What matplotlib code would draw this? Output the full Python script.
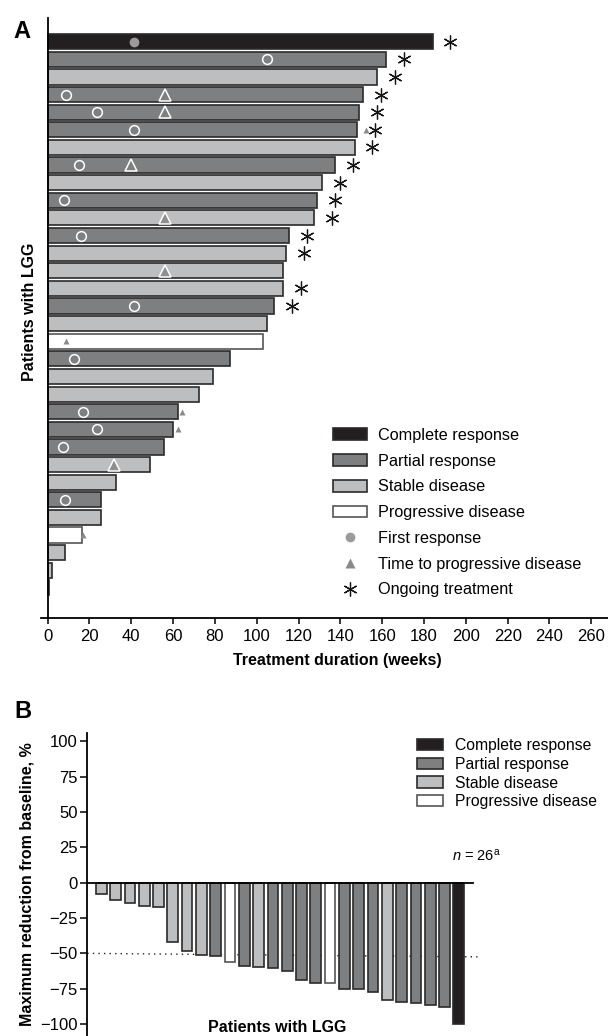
import numpy as np
import matplotlib
matplotlib.use("Agg")
import matplotlib.pyplot as plt
from matplotlib.patches import Patch
from matplotlib.lines import Line2D

plt.rcParams['font.family'] = ['Liberation Sans', 'DejaVu Sans']
plt.rcParams['mathtext.fontset'] = 'custom'
plt.rcParams['mathtext.rm'] = 'Liberation Sans'
plt.rcParams['mathtext.it'] = 'Liberation Sans:italic'

# ---- panel A data (one row per patient, top to bottom) ----
duration = [184.1, 161.9, 157.6, 150.9, 149.1, 148.0, 146.8, 137.6, 131.2, 128.8,
            127.4, 115.4, 114.1, 112.5, 112.5, 108.4, 104.9, 102.8, 87.3, 79.0,
            72.6, 62.3, 60.0, 55.7, 49.1, 32.7, 25.4, 25.4, 16.4, 8.3, 1.9, 0.8]
response_a = ['CR', 'PR', 'SD', 'PR', 'PR', 'PR', 'SD', 'PR', 'SD', 'PR',
              'SD', 'PR', 'SD', 'SD', 'SD', 'PR', 'SD', 'PD', 'PR', 'SD',
              'SD', 'PR', 'PR', 'PR', 'SD', 'SD', 'PR', 'SD', 'PD', 'SD', 'SD', 'SD']
nan = np.nan
first_response = [41.3, 104.9, nan, 8.6, 23.8, 41.3, nan, 15.1, nan, 7.8,
                  nan, 15.8, nan, nan, nan, 41.3, nan, nan, 12.6, nan,
                  nan, 16.8, 23.8, 7.2, nan, nan, 8.1, nan, nan, nan, nan, nan]
time_to_pd = [nan, nan, nan, 56, 56, 152.4, nan, 40, nan, nan,
              56, nan, nan, 56, nan, nan, nan, 8.6, nan, nan,
              nan, 64.2, 62.5, nan, 31.8, nan, nan, nan, 16.7, nan, nan, nan]
ongoing = [1, 1, 1, 1, 1, 1, 1, 1, 1, 1, 1, 1, 1, 0, 1, 1, 0, 0, 0, 0,
           0, 0, 0, 0, 0, 0, 0, 0, 0, 0, 0, 0]

# ---- panel B data ----
response_b = ['SD', 'SD', 'SD', 'SD', 'SD', 'SD', 'SD', 'SD', 'PR', 'PD',
              'PR', 'SD', 'PR', 'PR', 'PR', 'PR', 'PD', 'PR', 'PR', 'PR',
              'SD', 'PR', 'PR', 'PR', 'PR', 'CR']
reduction = [-8.2, -12.2, -14.6, -16.2, -17.2, -42, -48.4, -50.9, -52.2, -56.1,
             -59.1, -59.5, -60.4, -62.5, -69, -71, -71, -75.3, -75.5, -77,
             -83, -84.4, -85, -86.5, -88, -100]

colors = {'CR': '#231f20', 'PR': '#7e7f81', 'SD': '#bdbec0', 'PD': 'white'}
labels = {'CR': 'Complete response', 'PR': 'Partial response',
          'SD': 'Stable disease', 'PD': 'Progressive disease'}
edge = '#2a2a2a'

W, H = 608, 1036
fig = plt.figure(figsize=(W / 100, H / 100), dpi=100)


def rect(l, t, r, b):
    return [l / W, 1 - b / H, (r - l) / W, (b - t) / H]


# ---------------- A ----------------
ax = fig.add_axes(rect(41.4, 18, 608, 617.7))
rows = np.arange(len(duration))
ax.barh(rows, duration, height=0.86, color=[colors[r] for r in response_a],
        edgecolor=[edge if r != 'PD' else '#555555' for r in response_a],
        linewidth=1.2, zorder=2)

for i in rows:
    fr = first_response[i]
    if not np.isnan(fr):
        if response_a[i] == 'CR':
            ax.plot(fr, i, 'o', ms=7, mfc='#9a9a9a', mec='none', zorder=3)
        else:
            ax.plot(fr, i, 'o', ms=7, mfc='none', mec='white', mew=1.1, zorder=3)
    tp = time_to_pd[i]
    if not np.isnan(tp):
        inside = tp < duration[i] - 2 and response_a[i] != 'PD'
        if inside and response_a[i] == 'PR':
            ax.plot(tp, i, '^', ms=8, mfc='none', mec='white', mew=1.1, zorder=3)
        elif inside:
            ax.plot(tp, i, '^', ms=8, mfc='#8e8e8e', mec='white', mew=1.1, zorder=3)
        else:
            ax.plot(tp, i, '^', ms=5, mfc='#8a8a8a', mec='none', zorder=3)
    if ongoing[i]:
        ax.plot(duration[i] + 8.5, i, marker=(6, 2, 0), ms=10, color='#151515',
                mew=0.9, zorder=3)

ax.set_xlim(-3, 268)
ax.set_ylim(32.69, -1.345)
ax.set_yticks([])
ax.set_xticks(np.arange(0, 261, 20))
ax.tick_params(axis='x', direction='out', length=4, width=1.1, labelsize=12, pad=4)
for s in ['top', 'right']:
    ax.spines[s].set_visible(False)
ax.spines['left'].set_position(('data', 0))
ax.spines['left'].set_linewidth(1.3)
ax.spines['bottom'].set_linewidth(1.3)

handles_a = [Patch(fc=colors[k], ec=edge if k != 'PD' else '#555555', lw=1.2, label=labels[k])
             for k in ['CR', 'PR', 'SD', 'PD']]
handles_a += [Line2D([], [], ls='none', marker='o', ms=7, mfc='#9a9a9a', mec='none', label='First response'),
              Line2D([], [], ls='none', marker='^', ms=7, mfc='#8a8a8a', mec='none', label='Time to progressive disease'),
              Line2D([], [], ls='none', marker=(6, 2, 0), ms=10, color='#151515', mew=0.9, label='Ongoing treatment')]
fig.legend(handles=handles_a, loc='upper left', bbox_to_anchor=(333 / W, 1 - 428 / H),
           frameon=False, fontsize=11.7, handlelength=2.1, handleheight=0.75,
           handletextpad=0.65, labelspacing=0.66, borderpad=0, borderaxespad=0)

fig.text(337 / W, 1 - 661 / H, 'Treatment duration (weeks)', fontsize=11.5,
         fontweight='bold', ha='center', va='center')
fig.text(30 / W, 1 - 312 / H, 'Patients with LGG', fontsize=11.5, fontweight='bold',
         rotation=90, ha='center', va='center')
fig.text(22 / W, 1 - 31 / H, 'A', fontsize=17, fontweight='bold', ha='center', va='center')

# ---------------- B ----------------
bx = fig.add_axes(rect(87.3, 733, 472.7, 1036))
pos = np.arange(len(reduction))
bx.bar(pos, reduction, width=0.75, color=[colors[r] for r in response_b],
       edgecolor=[edge if r != 'PD' else '#555555' for r in response_b],
       linewidth=1.2, zorder=2)
bx.plot([-0.98, 26.5], [-50, -52.5], ls=(0, (1, 3)), color='#222222', lw=1,
        zorder=1, clip_on=False)
bx.set_xlim(-0.98, 25.97)
bx.set_ylim(-108.5, 106)
bx.set_yticks([100, 75, 50, 25, 0, -25, -50, -75, -100])
bx.set_xticks([])
bx.tick_params(axis='y', direction='out', length=5, width=1.1, labelsize=12, pad=2)
for s in ['top', 'right']:
    bx.spines[s].set_visible(False)
bx.spines['bottom'].set_position(('data', 0))
bx.spines['left'].set_linewidth(1.3)
bx.spines['bottom'].set_linewidth(1.3)

handles_b = [Patch(fc=colors[k], ec=edge if k != 'PD' else '#555555', lw=1.2, label=labels[k])
             for k in ['CR', 'PR', 'SD', 'PD']]
fig.legend(handles=handles_b, loc='upper left', bbox_to_anchor=(417 / W, 1 - 738 / H),
           frameon=False, fontsize=11.3, handlelength=1.65, handleheight=0.72,
           handletextpad=0.78, labelspacing=0.24, borderpad=0, borderaxespad=0)

fig.text(452 / W, 1 - 856 / H, r'$n$ = 26$^{\mathrm{a}}$', fontsize=10.5,
         ha='left', va='center')
fig.text(27 / W, 1 - 884 / H, 'Maximum reduction from baseline, %', fontsize=11.5,
         fontweight='bold', rotation=90, ha='center', va='center')
fig.text(277 / W, 1 - 1027 / H, 'Patients with LGG', fontsize=11.5,
         fontweight='bold', ha='center', va='center')
fig.text(23 / W, 1 - 711 / H, 'B', fontsize=17, fontweight='bold', ha='center', va='center')

fig.savefig('out.png', dpi=100)
